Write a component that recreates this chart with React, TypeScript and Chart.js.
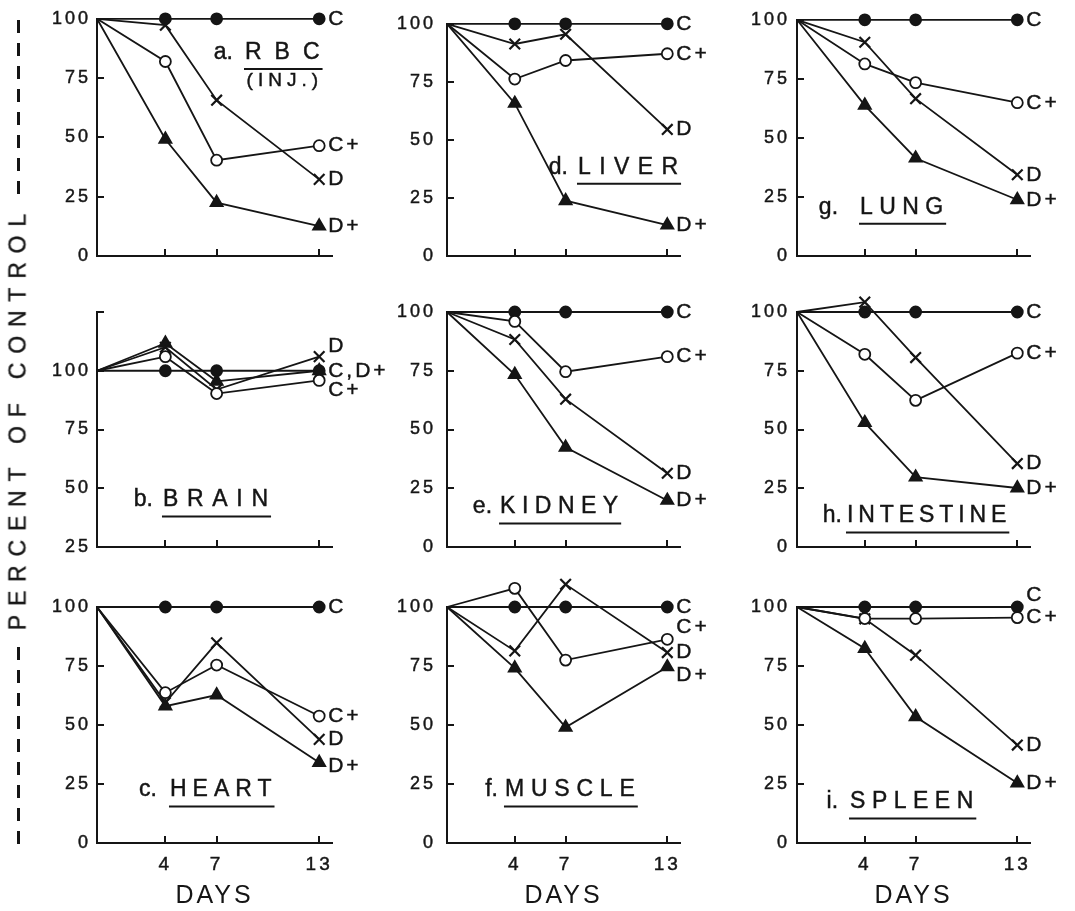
import React, { useEffect, useRef } from 'react';
import { Chart, registerables } from 'chart.js';

Chart.register(...registerables);

const INK = '#151515';
const FONT = "'Liberation Sans', Arial, Helvetica, sans-serif";

// Sampling days (day 0 = control baseline) and labelled day ticks
const DAYS = [0, 4, 7, 13];
const DAY_TICKS = [4, 7, 13];
const SERIES_KEYS = ['C', 'C+', 'D', 'D+'];

// a. RBC (injected)
const RBC_C = [100, 100, 100, 100];
const RBC_CP = [100, 82, 40.4, 46.5];
const RBC_D = [100, 97.3, 65.7, 32.3];
const RBC_DP = [100, 49.2, 22.5, 12.6];

// b. Brain
const BRAIN_C = [100, 100, 100, 100];
const BRAIN_CP = [100, 106, 90.3, 95.9];
const BRAIN_D = [100, 110, 92, 106];
const BRAIN_DP = [100, 111.7, 95.5, 100];

// c. Heart
const HEART_C = [100, 100, 100, 100];
const HEART_CP = [100, 63.7, 75.4, 53.8];
const HEART_D = [100, 59.5, 84.8, 43.9];
const HEART_DP = [100, 58, 62.7, 34.1];

// d. Liver
const LIVER_C = [100, 100, 100, 100];
const LIVER_CP = [100, 76.2, 84.2, 87.1];
const LIVER_D = [100, 91.3, 95.5, 54.5];
const LIVER_DP = [100, 65.7, 23.8, 13.3];

// e. Kidney
const KIDNEY_C = [100, 100, 100, 100];
const KIDNEY_CP = [100, 96, 74.6, 81];
const KIDNEY_D = [100, 88.3, 62.9, 31.4];
const KIDNEY_DP = [100, 73.4, 42.4, 19.8];

// f. Muscle
const MUSCLE_C = [100, 100, 100, 100];
const MUSCLE_CP = [100, 107.9, 77.5, 86.3];
const MUSCLE_D = [100, 81.4, 109.6, 80.7];
const MUSCLE_DP = [100, 74.1, 49, 74.6];

// g. Lung
const LUNG_C = [100, 100, 100, 100];
const LUNG_CP = [100, 81.3, 73.4, 64.9];
const LUNG_D = [100, 90.5, 66.6, 34.4];
const LUNG_DP = [100, 63.8, 41.4, 23.8];

// h. Intestine
const INTESTINE_C = [100, 100, 100, 100];
const INTESTINE_CP = [100, 82, 62.4, 82.5];
const INTESTINE_D = [100, 104.2, 80.6, 35.5];
const INTESTINE_DP = [100, 52.9, 29.7, 25.1];

// i. Spleen
const SPLEEN_C = [100, 100, 100, 100];
const SPLEEN_CP = [100, 95.1, 95.1, 95.5];
const SPLEEN_D = [100, 95, 79.6, 41.5];
const SPLEEN_DP = [100, 82.4, 53.5, 25.4];

// Marker look for each series, in SERIES_KEYS order
const SERIES_STYLE = [
  { pointStyle: 'circle', radius: 5.5, fill: INK, order: 3 },
  { pointStyle: 'circle', radius: 5.5, fill: '#ffffff', order: 0 },
  { pointStyle: 'crossRot', radius: 7.5, fill: INK, order: 2 },
  { pointStyle: 'triangle', radius: 7, fill: INK, order: 1 },
];

// Grid geometry (plot-area boxes in page pixels)
const COL_LEFT = [97, 447, 797];
const COL_WIDTH = [235, 233, 233];
const ROW_TOP = [18, 312, 607];
const ROW_HEIGHT = [238, 235, 236];
const ROW_TOP_PAD = [16, 40, 40];
const ROW_BOTTOM = [30, 30, 68];
const AXIS_W = 70;
const RIGHT_PAD = 75;
const Y_LABEL_PAD = [6, 11, 7];
const X_MAX = 13.75;
const TICK_LEN = 7;
const TEXT_STROKE = 0.45;

type EndLabel = { text: string; s: number; dy?: number };
type PanelDef = {
  letter: string;
  name: string;
  sub?: string;
  col: number;
  row: number;
  yMin: number;
  yMax: number;
  series: number[][];
  title: { x: number; y: number; gap: number; spacing: number };
  labels: EndLabel[];
};

const STD_LABELS: EndLabel[] = [
  { text: 'C', s: 0 },
  { text: 'C+', s: 1 },
  { text: 'D', s: 2 },
  { text: 'D+', s: 3 },
];

const PANELS: PanelDef[] = [
  {
    letter: 'a.', name: 'RBC', sub: '(INJ.)', col: 0, row: 0, yMin: 0, yMax: 100,
    series: [RBC_C, RBC_CP, RBC_D, RBC_DP],
    title: { x: 8.66, y: 85.8, gap: 12, spacing: 13 },
    labels: STD_LABELS,
  },
  {
    letter: 'b.', name: 'BRAIN', col: 0, row: 1, yMin: 25, yMax: 125,
    series: [BRAIN_C, BRAIN_CP, BRAIN_D, BRAIN_DP],
    title: { x: 3.86, y: 45, gap: 10, spacing: 8.7 },
    labels: [
      { text: 'D', s: 2, dy: -10 },
      { text: 'C,D+', s: 0 },
      { text: 'C+', s: 1, dy: 10 },
    ],
  },
  {
    letter: 'c.', name: 'HEART', col: 0, row: 2, yMin: 0, yMax: 100,
    series: [HEART_C, HEART_CP, HEART_D, HEART_DP],
    title: { x: 4.27, y: 22.5, gap: 13, spacing: 6 },
    labels: [
      { text: 'C', s: 0 },
      { text: 'C+', s: 1 },
      { text: 'D', s: 2 },
      { text: 'D+', s: 3, dy: 4 },
    ],
  },
  {
    letter: 'd.', name: 'LIVER', col: 1, row: 0, yMin: 0, yMax: 100,
    series: [LIVER_C, LIVER_CP, LIVER_D, LIVER_DP],
    title: { x: 7.73, y: 38.2, gap: 10, spacing: 8.4 },
    labels: STD_LABELS,
  },
  {
    letter: 'e.', name: 'KIDNEY', col: 1, row: 1, yMin: 0, yMax: 100,
    series: [KIDNEY_C, KIDNEY_CP, KIDNEY_D, KIDNEY_DP],
    title: { x: 3.13, y: 17, gap: 8, spacing: 6.5 },
    labels: STD_LABELS,
  },
  {
    letter: 'f.', name: 'MUSCLE', col: 1, row: 2, yMin: 0, yMax: 100,
    series: [MUSCLE_C, MUSCLE_CP, MUSCLE_D, MUSCLE_DP],
    title: { x: 3.42, y: 22.5, gap: 7, spacing: 6.8 },
    labels: [
      { text: 'C', s: 0 },
      { text: 'C+', s: 1, dy: -12.5 },
      { text: 'D', s: 2 },
      { text: 'D+', s: 3, dy: 8 },
    ],
  },
  {
    letter: 'g.', name: 'LUNG', col: 2, row: 0, yMin: 0, yMax: 100,
    series: [LUNG_C, LUNG_CP, LUNG_D, LUNG_DP],
    title: { x: 3.72, y: 20.6, gap: 22, spacing: 6.4 },
    labels: STD_LABELS,
  },
  {
    letter: 'h.', name: 'INTESTINE', col: 2, row: 1, yMin: 0, yMax: 100,
    series: [INTESTINE_C, INTESTINE_CP, INTESTINE_D, INTESTINE_DP],
    title: { x: 2.95, y: 13.2, gap: 5, spacing: 4.9 },
    labels: STD_LABELS,
  },
  {
    letter: 'i.', name: 'SPLEEN', col: 2, row: 2, yMin: 0, yMax: 100,
    series: [SPLEEN_C, SPLEEN_CP, SPLEEN_D, SPLEEN_DP],
    title: { x: 3.13, y: 17.4, gap: 12, spacing: 6.5 },
    labels: [
      { text: 'C', s: 0, dy: -12 },
      { text: 'C+', s: 1 },
      { text: 'D', s: 2 },
      { text: 'D+', s: 3 },
    ],
  },
];

// Region used to let markers above the plot box still be drawn
const OPEN_AREA = { left: -1e4, top: -1e4, right: 1e4, bottom: 1e4 };

function inkText(ctx: CanvasRenderingContext2D, text: string, x: number, y: number) {
  ctx.fillText(text, x, y);
  ctx.strokeText(text, x, y);
}

function PanelChart({ panel }: { panel: PanelDef }) {
  const ref = useRef<HTMLCanvasElement>(null);
  const topPad = ROW_TOP_PAD[panel.row];
  const bottomH = ROW_BOTTOM[panel.row];
  const width = AXIS_W + COL_WIDTH[panel.col] + RIGHT_PAD;
  const height = topPad + ROW_HEIGHT[panel.row] + bottomH;
  const left = COL_LEFT[panel.col] - AXIS_W;
  const top = ROW_TOP[panel.row] - topPad;
  const bottomRow = panel.row === 2;

  useEffect(() => {
    if (!ref.current) return;

    const decor = {
      id: 'panelDecor',
      beforeDraw(chart: any) {
        chart.ctx.letterSpacing = '3px';
      },
      beforeDatasetsDraw(chart: any) {
        const { ctx, chartArea } = chart;
        const xs = chart.scales.x;
        const ys = chart.scales.y;
        ctx.save();
        ctx.strokeStyle = INK;
        ctx.lineWidth = 2;
        ctx.beginPath();
        ys.ticks.forEach((t: any) => {
          if (t.value > ys.min) {
            const py = Math.round(ys.getPixelForValue(t.value));
            ctx.moveTo(chartArea.left, py);
            ctx.lineTo(chartArea.left + TICK_LEN, py);
          }
        });
        DAY_TICKS.forEach((d) => {
          const px = Math.round(xs.getPixelForValue(d));
          ctx.moveTo(px, chartArea.bottom);
          ctx.lineTo(px, chartArea.bottom - TICK_LEN);
        });
        ctx.stroke();
        ctx.restore();
      },
      afterDatasetsDraw(chart: any) {
        const { ctx, chartArea } = chart;
        const xs = chart.scales.x;
        const ys = chart.scales.y;

        // markers lying above the 100 % line are skipped by the controller
        const metas = chart.getSortedVisibleDatasetMetas().slice().reverse();
        metas.forEach((meta: any) => {
          meta.data.forEach((pt: any) => {
            if (pt.y < chartArea.top - 0.5) pt.draw(ctx, OPEN_AREA);
          });
        });

        ctx.save();
        ctx.fillStyle = INK;
        ctx.strokeStyle = INK;
        ctx.lineWidth = TEXT_STROKE;

        // series names at the day-13 end of each line
        ctx.font = `21px ${FONT}`;
        ctx.letterSpacing = '3px';
        ctx.textAlign = 'left';
        ctx.textBaseline = 'middle';
        panel.labels.forEach((l) => {
          const meta = chart.getDatasetMeta(l.s);
          const pt = meta.data[meta.data.length - 1];
          inkText(ctx, l.text, pt.x + 9, pt.y + (l.dy || 0));
        });

        // panel title: letter, underlined organ name, optional note
        const t = panel.title;
        const px = xs.getPixelForValue(t.x);
        const py = ys.getPixelForValue(t.y);
        ctx.font = `23px ${FONT}`;
        ctx.letterSpacing = `${t.spacing}px`;
        ctx.textAlign = 'left';
        inkText(ctx, panel.name, px, py);
        const w = ctx.measureText(panel.name).width - t.spacing;

        ctx.letterSpacing = '0px';
        ctx.textAlign = 'right';
        inkText(ctx, panel.letter, px - t.gap, py);

        if (panel.sub) {
          ctx.font = `19px ${FONT}`;
          ctx.letterSpacing = '5px';
          ctx.textAlign = 'center';
          inkText(ctx, panel.sub, px + w / 2 + 2.5, py + 28.5);
        }

        ctx.lineWidth = 2;
        ctx.beginPath();
        ctx.moveTo(px - 1, py + 16.5);
        ctx.lineTo(px + w + 3, py + 16.5);
        ctx.stroke();
        ctx.restore();
      },
    };

    const tickFont = (size: number) => ({ family: FONT, size });

    const chart = new Chart(ref.current, {
      type: 'line',
      data: {
        datasets: SERIES_KEYS.map((key, i) => {
          const st = SERIES_STYLE[i];
          return {
            label: key,
            data: DAYS.map((d, j) => ({ x: d, y: panel.series[i][j] })),
            borderColor: INK,
            borderWidth: 1.8,
            backgroundColor: st.fill,
            pointStyle: st.pointStyle as any,
            pointRadius: DAYS.map((_, j) => (j === 0 ? 0 : st.radius)),
            pointBackgroundColor: st.fill,
            pointBorderColor: INK,
            pointBorderWidth: key === 'D' ? 2.2 : 1.8,
            tension: 0,
            fill: false,
            clip: false as any,
            order: st.order,
          };
        }),
      },
      options: {
        responsive: false,
        animation: false,
        devicePixelRatio: 1,
        events: [],
        layout: {
          autoPadding: false,
          padding: { left: 0, top: topPad, right: RIGHT_PAD, bottom: 0 },
        },
        plugins: {
          legend: { display: false },
          tooltip: { enabled: false },
        },
        scales: {
          x: {
            type: 'linear',
            min: 0,
            max: X_MAX,
            afterBuildTicks: (s: any) => {
              s.ticks = DAY_TICKS.map((v) => ({ value: v }));
            },
            afterFit: (s: any) => {
              s.height = bottomH;
            },
            grid: { display: false, drawTicks: false },
            border: { display: true, color: INK, width: 2 },
            ticks: {
              display: bottomRow,
              color: INK,
              padding: 10,
              autoSkip: false,
              maxRotation: 0,
              textStrokeColor: INK,
              textStrokeWidth: TEXT_STROKE,
              font: tickFont(19),
            },
            title: {
              display: bottomRow,
              text: 'DAYS',
              color: INK,
              padding: { top: 0, bottom: 0 },
              font: tickFont(25),
            },
          },
          y: {
            type: 'linear',
            min: panel.yMin,
            max: panel.yMax,
            afterFit: (s: any) => {
              s.width = AXIS_W;
            },
            grid: { display: false, drawTicks: false },
            border: { display: true, color: INK, width: 2 },
            ticks: {
              stepSize: 25,
              color: INK,
              padding: Y_LABEL_PAD[panel.col],
              textStrokeColor: INK,
              textStrokeWidth: TEXT_STROKE,
              font: tickFont(18),
              callback: (v: any) => (Number(v) > 100 ? '' : String(v)),
            },
          },
        },
      },
      plugins: [decor],
    } as any);

    return () => chart.destroy();
  }, []);

  return (
    <canvas
      ref={ref}
      width={width}
      height={height}
      style={{ position: 'absolute', left, top, width, height }}
    />
  );
}

const DASHES = `repeating-linear-gradient(to bottom, ${INK} 0px, ${INK} 13px, transparent 13px, transparent 23px)`;

export default function App() {
  return (
    <div
      style={{
        position: 'absolute',
        left: 0,
        top: 0,
        width: 1075,
        height: 911,
        overflow: 'hidden',
        background: '#ffffff',
        fontFamily: FONT,
        color: INK,
      }}
    >
      {PANELS.map((p) => (
        <PanelChart key={p.letter} panel={p} />
      ))}
      <div style={{ position: 'absolute', left: 16.5, top: 20, width: 3, height: 174, background: DASHES }} />
      <div style={{ position: 'absolute', left: 16.5, top: 647, width: 3, height: 197, background: DASHES }} />
      <div
        style={{
          position: 'absolute',
          left: 18,
          top: 421.5,
          transform: 'translate(-50%, -50%) rotate(-90deg)',
          whiteSpace: 'nowrap',
          fontSize: 23,
          lineHeight: 1,
          letterSpacing: '8.8px',
          paddingLeft: '8.8px',
          WebkitTextStroke: '0.4px',
        }}
      >
        PERCENT OF CONTROL
      </div>
    </div>
  );
}
